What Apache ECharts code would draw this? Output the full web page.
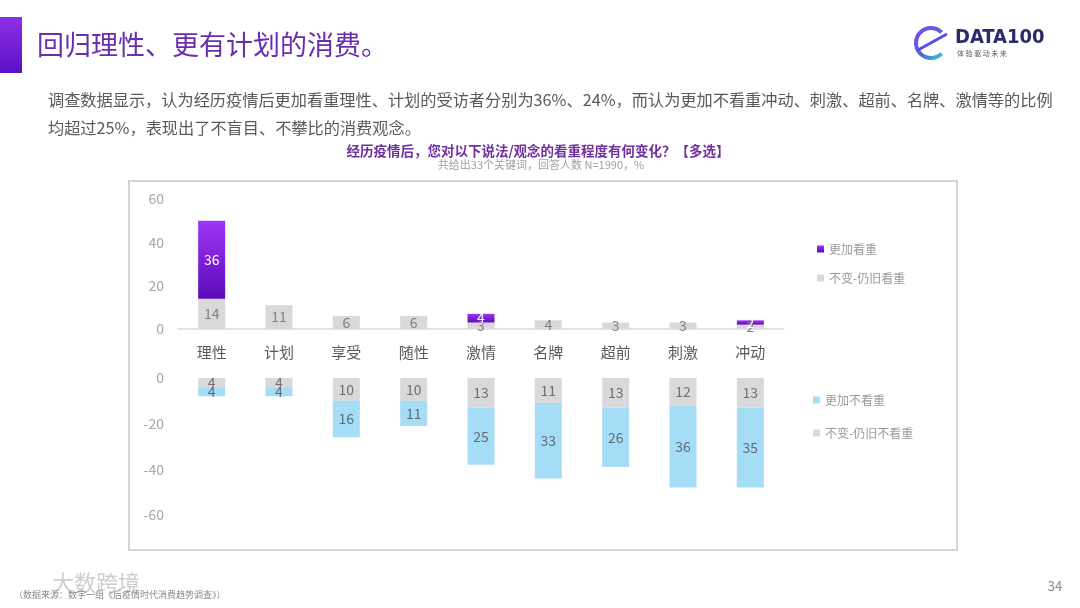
<!DOCTYPE html>
<html>
<head>
<meta charset="utf-8">
<script src="https://cdn.jsdelivr.net/npm/echarts@6/dist/echarts.min.js"></script>
<style>
html,body{margin:0;padding:0;background:#fff;}
#main{width:1080px;height:608px;}
</style>
</head>
<body>
<div id="main"></div>
<script>
const categories = ['理性','计划','享受','随性','激情','名牌','超前','刺激','冲动'];
const moreValued = [36, null, null, null, 4, null, null, null, 2];
const sameValued = [14, 11, 6, 6, 3, 4, 3, 3, 2];
const sameNotValued = [4, 4, 10, 10, 13, 11, 13, 12, 13];
const lessValued = [4, 4, 16, 11, 25, 33, 26, 36, 35];
const topTicks = [0, 20, 40, 60];
const bottomTicks = [-60, -40, -20, 0];

const FONT = 'Noto Sans CJK SC';
const chart = echarts.init(document.getElementById('main'));

const purpleGrad = new echarts.graphic.LinearGradient(0, 0, 0, 1, [
  {offset: 0, color: '#a035f5'},
  {offset: 1, color: '#5a0cb8'}
]);

const absFmt = p => (p.value == null ? '' : Math.abs(p.value));

const option = {
  backgroundColor: '#ffffff',
  textStyle: {fontFamily: FONT},
  animation: false,
  grid: [
    {left: 178, right: 296, top: 199, bottom: 279},
    {left: 178, right: 296, top: 378, bottom: 93}
  ],
  xAxis: [
    {
      gridIndex: 0, type: 'category', data: categories,
      axisTick: {show: false},
      axisLine: {lineStyle: {color: '#dcdcdc', width: 1.5}},
      axisLabel: {color: '#595959', fontSize: 15, margin: 16, fontFamily: FONT}
    },
    {
      gridIndex: 1, type: 'category', data: categories,
      axisTick: {show: false}, axisLine: {show: false}, axisLabel: {show: false}
    }
  ],
  yAxis: [
    {
      gridIndex: 0, type: 'value', min: topTicks[0], max: topTicks[topTicks.length - 1], interval: 20,
      splitLine: {show: false}, axisLine: {show: false}, axisTick: {show: false},
      axisLabel: {color: '#a6a6a6', fontSize: 14, margin: 14, fontFamily: FONT}
    },
    {
      gridIndex: 1, type: 'value', min: bottomTicks[0], max: bottomTicks[bottomTicks.length - 1], interval: 20,
      splitLine: {show: false}, axisLine: {show: false}, axisTick: {show: false},
      axisLabel: {color: '#a6a6a6', fontSize: 14, margin: 14, fontFamily: FONT}
    }
  ],
  legend: [
    {
      orient: 'vertical', left: 812, top: 238, itemWidth: 7, itemHeight: 7, itemGap: 17,
      icon: 'rect',
      textStyle: {color: '#9a9a9a', fontSize: 12, fontFamily: FONT},
      data: ['更加看重', '不变-仍旧看重']
    },
    {
      orient: 'vertical', left: 808, top: 389, itemWidth: 7, itemHeight: 7, itemGap: 21,
      icon: 'rect',
      textStyle: {color: '#9a9a9a', fontSize: 12, fontFamily: FONT},
      data: ['更加不看重', '不变-仍旧不看重']
    }
  ],
  series: [
    {
      name: '不变-仍旧看重', type: 'bar', xAxisIndex: 0, yAxisIndex: 0, stack: 'top',
      barWidth: 27, data: sameValued,
      itemStyle: {color: '#d9d9dc'},
      label: {show: true, position: 'inside', color: '#7f7f7f', fontSize: 14, fontFamily: FONT, formatter: absFmt}
    },
    {
      name: '更加看重', type: 'bar', xAxisIndex: 0, yAxisIndex: 0, stack: 'top',
      barWidth: 27, data: moreValued,
      itemStyle: {color: purpleGrad},
      label: {show: true, position: 'inside', color: '#ffffff', fontSize: 14, fontFamily: FONT, formatter: absFmt}
    },
    {
      name: '不变-仍旧不看重', type: 'bar', xAxisIndex: 1, yAxisIndex: 1, stack: 'bot',
      barWidth: 27, data: sameNotValued.map(v => -v),
      itemStyle: {color: '#d9d9dc'},
      label: {show: true, position: 'inside', color: '#6f6f6f', fontSize: 14, fontFamily: FONT, formatter: absFmt}
    },
    {
      name: '更加不看重', type: 'bar', xAxisIndex: 1, yAxisIndex: 1, stack: 'bot',
      barWidth: 27, data: lessValued.map(v => -v),
      itemStyle: {color: '#a6ddf6'},
      label: {show: true, position: 'inside', color: '#5f6b75', fontSize: 14, fontFamily: FONT, formatter: absFmt}
    }
  ],
  graphic: [
    {
      type: 'rect', shape: {x: 0, y: 17, width: 22, height: 56},
      style: {fill: new echarts.graphic.LinearGradient(0, 0, 0, 1, [
        {offset: 0, color: '#8e30e8'}, {offset: 1, color: '#5a10c6'}])}
    },
    {
      type: 'text', x: 37, y: 45,
      style: {text: '回归理性、更有计划的消费。', fill: '#6a2db0', fontSize: 27, fontFamily: FONT, verticalAlign: 'middle'}
    },
    {
      type: 'arc', shape: {cx: 931, cy: 43, r: 15, startAngle: Math.PI * 0.25, endAngle: Math.PI * 1.75},
      style: {fill: 'none', lineWidth: 4, stroke: new echarts.graphic.LinearGradient(0, 0, 1, 1, [
        {offset: 0, color: '#8a3ff0'}, {offset: 0.6, color: '#4a68e0'}, {offset: 1, color: '#3fd6c8'}])}
    },
    {
      type: 'line', shape: {x1: 918, y1: 50, x2: 947, y2: 34},
      style: {stroke: '#5a4ee8', lineWidth: 3}
    },
    {
      type: 'text', x: 955, y: 38,
      style: {text: 'DATA100', fill: '#2b2a6a', fontSize: 20, fontWeight: 'bold', fontFamily: 'DejaVu Sans Condensed', verticalAlign: 'middle'}
    },
    {
      type: 'text', x: 957, y: 53,
      style: {text: '体 验 驱 动 未 来', fill: '#555', fontSize: 7, fontFamily: FONT, verticalAlign: 'middle'}
    },
    {
      type: 'text', x: 48, y: 100,
      style: {text: '调查数据显示，认为经历疫情后更加看重理性、计划的受访者分别为36%、24%，而认为更加不看重冲动、刺激、超前、名牌、激情等的比例',
        fill: '#595959', fontSize: 16.2, fontFamily: FONT, verticalAlign: 'middle'}
    },
    {
      type: 'text', x: 48, y: 128,
      style: {text: '均超过25%，表现出了不盲目、不攀比的消费观念。',
        fill: '#595959', fontSize: 16.2, fontFamily: FONT, verticalAlign: 'middle'}
    },
    {
      type: 'text', x: 538, y: 151,
      style: {text: '经历疫情后，您对以下说法/观念的看重程度有何变化？【多选】',
        fill: '#7030a0', fontSize: 13.5, fontWeight: 'bold', fontFamily: FONT, align: 'center', verticalAlign: 'middle'}
    },
    {
      type: 'text', x: 541, y: 165,
      style: {text: '共给出33个关键词，回答人数 N=1990，%',
        fill: '#a0a0a0', fontSize: 11, fontFamily: FONT, align: 'center', verticalAlign: 'middle'}
    },
    {
      type: 'rect', shape: {x: 129, y: 181, width: 828, height: 369},
      style: {fill: 'none', stroke: '#d4d4d4', lineWidth: 2}
    },
    {
      type: 'text', x: 1055, y: 586,
      style: {text: '34', fill: '#8a8a8a', fontSize: 13, fontFamily: FONT, align: 'center', verticalAlign: 'middle'}
    },
    {
      type: 'text', x: 52, y: 583,
      style: {text: '大数跨境', fill: 'rgba(200,200,200,0.9)', fontSize: 22, fontFamily: FONT, verticalAlign: 'middle'}
    },
    {
      type: 'text', x: 14, y: 595,
      style: {text: '（数据来源：数字一组《后疫情时代消费趋势调查》）', fill: '#8a8a8a', fontSize: 9, fontFamily: FONT, verticalAlign: 'middle'}
    }
  ]
};
chart.setOption(option);
</script>
</body>
</html>
